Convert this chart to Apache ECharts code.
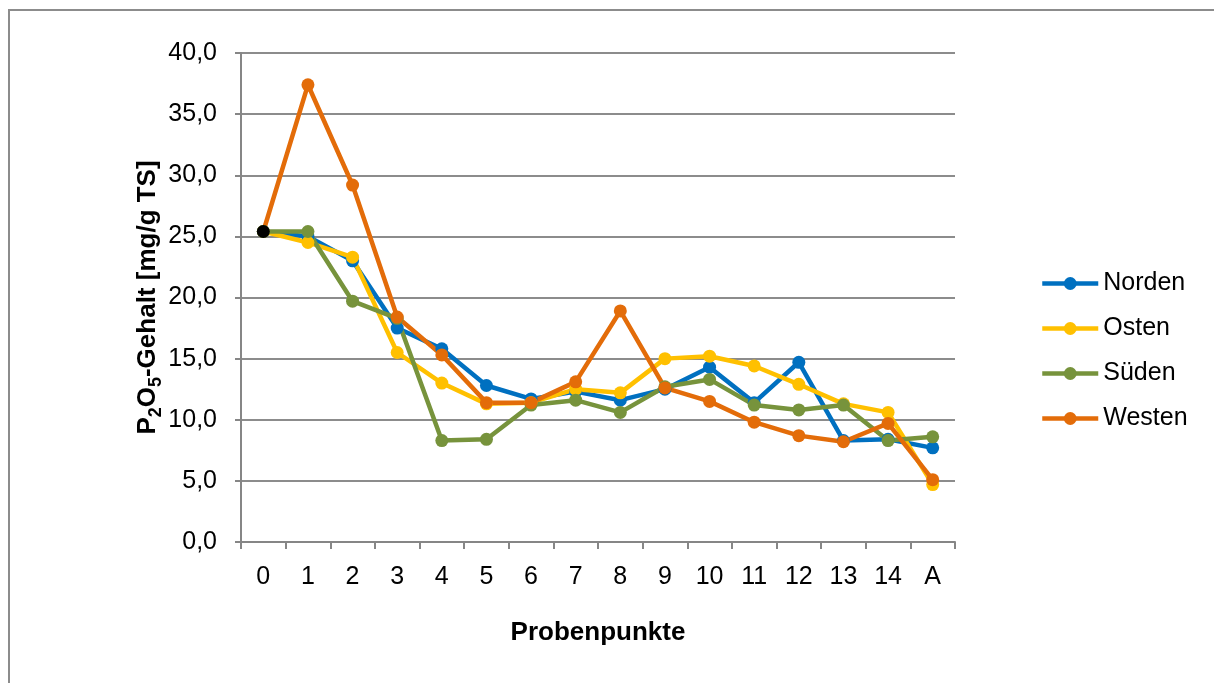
<!DOCTYPE html>
<html lang="de">
<head>
  <meta charset="UTF-8">
  <title>P2O5-Gehalt</title>
  <style>
    html, body { margin: 0; padding: 0; background-color: #fff; overflow: hidden; }
    #frame {
      position: absolute; left: 8px; top: 9px; width: 1300px; height: 800px;
      border-top: 2px solid #8c8c8c; border-left: 2px solid #8c8c8c;
    }
    #chart { position: absolute; left: 0; top: 0; width: 1214px; height: 683px; }
  </style>
  <script src="https://cdn.jsdelivr.net/npm/echarts@6/dist/echarts.min.js"></script>
</head>
<body>
<div id="frame"></div>
<div id="chart"></div>
<script>
  // Probenpunkte
  const categories = ['0', '1', '2', '3', '4', '5', '6', '7', '8', '9', '10', '11', '12', '13', '14', 'A']
  const seriesNames = ['Norden', 'Osten', 'Süden', 'Westen']
  const colors = ['#0070C0', '#FFC000', '#77933C', '#E36C09']

  // P2O5-Gehalt [mg/g TS]
  const norden = [25.4, 25.0, 23.0, 17.5, 15.8, 12.8, 11.7, 12.3, 11.6, 12.5, 14.3, 11.4, 14.7, 8.3, 8.4, 7.7]
  const osten  = [25.4, 24.5, 23.3, 15.5, 13.0, 11.3, 11.4, 12.5, 12.2, 15.0, 15.2, 14.4, 12.9, 11.3, 10.6, 4.7]
  const sueden = [25.4, 25.4, 19.7, 18.3, 8.3, 8.4, 11.2, 11.6, 10.6, 12.7, 13.3, 11.2, 10.8, 11.2, 8.3, 8.6]
  const westen = [25.4, 37.4, 29.2, 18.4, 15.3, 11.4, 11.4, 13.1, 18.9, 12.6, 11.5, 9.8, 8.7, 8.2, 9.7, 5.1]

  const values = [norden, osten, sueden, westen]
  const font = 'Liberation Sans, Arial, sans-serif'

  const chart = echarts.init(document.getElementById('chart'))

  const series = seriesNames.map((name, i) => ({
    name: name,
    type: 'line',
    symbol: 'circle',
    symbolSize: 13,
    animation: false,
    lineStyle: { width: 4.5, color: colors[i] },
    itemStyle: { color: colors[i] },
    data: values[i].map((v, j) => {
      // erster Punkt schwarz markiert
      if (i === 3 && j === 0) return { value: v, itemStyle: { color: '#000' } }
      return v
    })
  }))

  const option = {
    animation: false,
    color: colors,
    grid: { left: 241, right: 259, top: 53, bottom: 141 },
    legend: {
      orient: 'vertical',
      left: 1035,
      top: 266,
      itemWidth: 56,
      itemHeight: 16,
      itemGap: 20,
      lineStyle: { width: 4.5 },
      textStyle: { fontFamily: font, fontSize: 25, color: '#000' },
      data: seriesNames
    },
    xAxis: {
      type: 'category',
      data: categories,
      boundaryGap: true,
      name: 'Probenpunkte',
      nameLocation: 'middle',
      nameGap: 78,
      nameTextStyle: { fontFamily: font, fontSize: 26, fontWeight: 'bold', color: '#000' },
      axisLine: { lineStyle: { color: '#868686', width: 2 } },
      axisTick: { show: true, length: 7, lineStyle: { color: '#868686', width: 2 } },
      axisLabel: { fontFamily: font, fontSize: 25, color: '#000', margin: 23 }
    },
    yAxis: {
      type: 'value',
      min: 0,
      max: 40,
      interval: 5,
      name: 'P{sub|2}O{sub|5}-Gehalt [mg/g TS]',
      nameLocation: 'middle',
      nameGap: 76,
      nameMoveOverlap: false,
      nameTextStyle: {
        fontFamily: font, fontSize: 26, fontWeight: 'bold', color: '#000',
        rich: {
          sub: { fontFamily: font, fontSize: 18, fontWeight: 'bold', color: '#000', verticalAlign: 'bottom', padding: [16, 0, 0, 0] }
        }
      },
      axisLine: { show: true, lineStyle: { color: '#868686', width: 2 } },
      axisTick: { show: true, length: 6, lineStyle: { color: '#868686', width: 2 } },
      axisLabel: {
        fontFamily: font, fontSize: 25, color: '#000', margin: 24,
        formatter: v => v.toFixed(1).replace('.', ',')
      },
      splitLine: { lineStyle: { color: '#8c8c8c', width: 2 } }
    },
    series: series
  }
  chart.setOption(option)
</script>
</body>
</html>
